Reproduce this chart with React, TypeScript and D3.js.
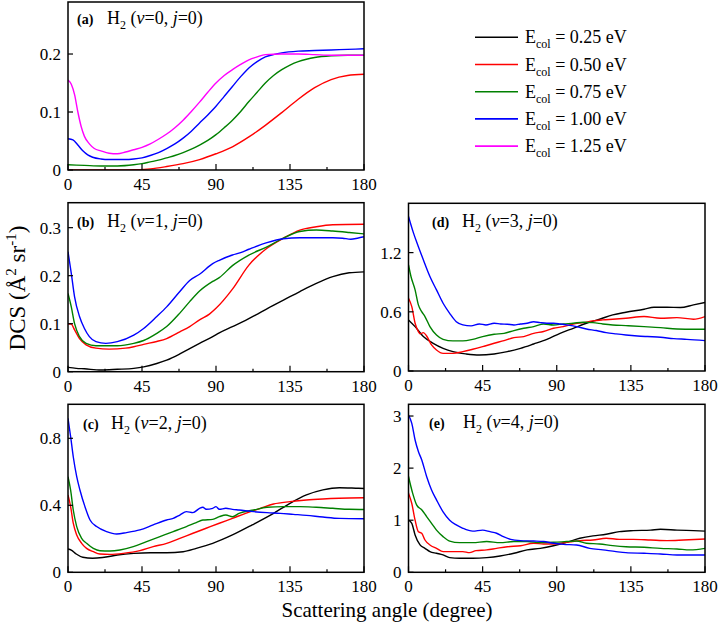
import React from 'react';
import * as d3 from 'd3';

type P = [number, number];

// ---------- data ----------
const ANGLE_TICKS = [0, 45, 90, 135, 180];
const ANGLE_MINOR = [22.5, 67.5, 112.5, 157.5];
const ENERGIES = ['0.25', '0.50', '0.75', '1.00', '1.25'];
const COLORS = ['#000000', '#ff0000', '#008000', '#0000ff', '#ff00ff'];

const Y_TICKS_A = [0, 0.1, 0.2];
const Y_TICKS_B = [0, 0.1, 0.2, 0.3];
const Y_TICKS_C = [0, 0.4, 0.8];
const Y_TICKS_D = [0, 0.6, 1.2];
const Y_TICKS_E = [0, 1, 2, 3];

// (a) v=0
const A_RED: P[] = [[0, 0], [30, 0], [40, 0.0005], [50, 0.002], [60, 0.006], [70, 0.011], [80, 0.018], [90, 0.028], [100, 0.040], [110, 0.057], [120, 0.077], [130, 0.099], [140, 0.122], [150, 0.142], [160, 0.156], [170, 0.163], [180, 0.165]];
const A_GREEN: P[] = [[0, 0.009], [10, 0.008], [20, 0.007], [30, 0.007], [40, 0.009], [45, 0.011], [50, 0.014], [55, 0.017], [60, 0.021], [65, 0.025], [70, 0.03], [75, 0.036], [80, 0.043], [85, 0.051], [90, 0.061], [95, 0.073], [100, 0.086], [105, 0.101], [110, 0.118], [115, 0.134], [120, 0.150], [125, 0.163], [130, 0.173], [135, 0.181], [140, 0.187], [145, 0.191], [150, 0.194], [160, 0.197], [170, 0.198], [180, 0.198]];
const A_BLUE: P[] = [[0, 0.054], [3, 0.052], [6, 0.043], [9, 0.033], [12, 0.026], [15, 0.022], [20, 0.019], [25, 0.018], [30, 0.018], [35, 0.018], [40, 0.019], [45, 0.021], [50, 0.025], [55, 0.030], [60, 0.037], [65, 0.045], [70, 0.055], [75, 0.067], [80, 0.081], [85, 0.095], [90, 0.110], [95, 0.127], [100, 0.144], [105, 0.161], [110, 0.176], [115, 0.187], [120, 0.195], [125, 0.199], [130, 0.202], [140, 0.205], [150, 0.206], [160, 0.207], [170, 0.208], [180, 0.209]];
const A_MAGENTA: P[] = [[0, 0.155], [2, 0.148], [4, 0.13], [6, 0.1], [8, 0.075], [10, 0.058], [13, 0.045], [16, 0.037], [20, 0.033], [25, 0.029], [30, 0.028], [35, 0.031], [40, 0.035], [45, 0.039], [50, 0.045], [55, 0.053], [60, 0.062], [65, 0.073], [70, 0.086], [75, 0.101], [80, 0.117], [85, 0.134], [90, 0.150], [95, 0.163], [100, 0.173], [105, 0.182], [110, 0.190], [115, 0.195], [120, 0.199], [130, 0.200], [140, 0.200], [150, 0.199], [160, 0.198], [170, 0.198], [180, 0.198]];

// (b) v=1
const B_BLACK: P[] = [[0, 0.009], [5, 0.007], [10, 0.006], [20, 0.0035], [30, 0.005], [40, 0.007], [46, 0.01], [54, 0.017], [60, 0.024], [68, 0.037], [74, 0.048], [80, 0.059], [88, 0.073], [92, 0.081], [100, 0.094], [108, 0.107], [114, 0.118], [122, 0.133], [131, 0.149], [141, 0.167], [151, 0.184], [161, 0.198], [171, 0.206], [180, 0.208]];
const B_RED: P[] = [[0, 0.1], [2, 0.099], [4, 0.087], [7, 0.069], [11, 0.056], [17, 0.049], [25, 0.047], [35, 0.049], [40, 0.052], [46, 0.057], [54, 0.063], [60, 0.069], [68, 0.083], [74, 0.094], [80, 0.108], [86, 0.120], [90, 0.132], [100, 0.172], [110, 0.222], [121, 0.257], [131, 0.278], [141, 0.295], [151, 0.302], [161, 0.306], [180, 0.307]];
const B_GREEN: P[] = [[0, 0.163], [2, 0.135], [4, 0.1], [7, 0.073], [11, 0.059], [17, 0.054], [25, 0.054], [30, 0.054], [40, 0.059], [46, 0.065], [54, 0.08], [60, 0.094], [68, 0.122], [74, 0.146], [80, 0.168], [88, 0.188], [92, 0.196], [100, 0.221], [110, 0.243], [121, 0.26], [131, 0.278], [141, 0.292], [151, 0.295], [161, 0.293], [171, 0.29], [180, 0.287]];
const B_BLUE: P[] = [[0, 0.25], [2, 0.205], [4, 0.156], [7, 0.115], [10, 0.09], [13, 0.073], [17, 0.0625], [23, 0.059], [30, 0.0625], [40, 0.076], [46, 0.09], [54, 0.115], [60, 0.135], [68, 0.167], [74, 0.19], [80, 0.203], [88, 0.225], [92, 0.232], [100, 0.243], [105, 0.248], [110, 0.255], [121, 0.269], [131, 0.277], [141, 0.279], [151, 0.279], [161, 0.279], [167, 0.278], [172, 0.276], [176, 0.278], [180, 0.281]];

// (c) v=2
const C_BLACK: P[] = [[0, 0.139], [2, 0.133], [5, 0.109], [9, 0.09], [15, 0.084], [21, 0.088], [30, 0.103], [40, 0.113], [50, 0.117], [60, 0.117], [70, 0.123], [78, 0.143], [88, 0.173], [100, 0.223], [112, 0.283], [125, 0.352], [135, 0.412], [145, 0.462], [155, 0.492], [165, 0.505], [175, 0.502], [180, 0.5]];
const C_RED: P[] = [[0, 0.462], [1.6, 0.392], [3.2, 0.293], [5.3, 0.223], [8.3, 0.173], [11.3, 0.143], [15.4, 0.123], [19.4, 0.109], [25.5, 0.107], [33.6, 0.113], [43.7, 0.129], [51.8, 0.153], [60, 0.173], [68, 0.203], [76, 0.233], [84, 0.263], [92, 0.293], [100, 0.322], [108, 0.352], [117, 0.382], [125, 0.408], [135, 0.422], [145, 0.432], [155, 0.438], [165, 0.442], [180, 0.445]];
const C_GREEN: P[] = [[0, 0.571], [1.6, 0.49], [3.2, 0.372], [5.3, 0.273], [8.3, 0.203], [11.3, 0.173], [15.4, 0.143], [19.4, 0.129], [25.5, 0.127], [31.6, 0.133], [39.7, 0.153], [47.8, 0.183], [55.9, 0.213], [64, 0.243], [72, 0.273], [78, 0.297], [82, 0.312], [88, 0.316], [92, 0.332], [96, 0.342], [100, 0.332], [104, 0.352], [113, 0.372], [121, 0.388], [131, 0.392], [141, 0.392], [151, 0.388], [161, 0.382], [171, 0.376], [180, 0.375]];
const C_BLUE: P[] = [[0, 0.919], [1.6, 0.81], [3.2, 0.69], [5.3, 0.571], [7.3, 0.49], [10.3, 0.392], [13.4, 0.312], [17.4, 0.273], [23.5, 0.243], [29.6, 0.229], [35.6, 0.237], [43.7, 0.253], [51.8, 0.283], [60, 0.312], [64, 0.322], [68, 0.342], [72, 0.362], [76, 0.356], [80, 0.382], [82, 0.388], [84, 0.376], [88, 0.382], [90, 0.392], [92, 0.376], [96, 0.382], [100, 0.376], [104, 0.372], [113, 0.362], [121, 0.356], [129, 0.352], [137, 0.346], [145, 0.34], [155, 0.33], [165, 0.322], [180, 0.32]];

// (d) v=3
const D_BLACK: P[] = [[0, 0.518], [4, 0.45], [9, 0.349], [15, 0.281], [21, 0.23], [27, 0.196], [35, 0.173], [43, 0.162], [52, 0.173], [60, 0.196], [68, 0.23], [76, 0.274], [84, 0.321], [92, 0.382], [100, 0.433], [108, 0.484], [116, 0.525], [124, 0.569], [132, 0.596], [143, 0.626], [149, 0.646], [157, 0.646], [165, 0.643], [173, 0.67], [180, 0.694]];
const D_RED: P[] = [[0, 0.738], [2, 0.653], [4, 0.484], [6, 0.4], [7, 0.376], [9, 0.389], [11, 0.355], [14, 0.264], [17, 0.213], [21, 0.179], [27, 0.179], [33, 0.196], [39, 0.22], [45, 0.247], [52, 0.281], [58, 0.308], [64, 0.338], [70, 0.349], [76, 0.382], [82, 0.4], [88, 0.433], [94, 0.45], [100, 0.477], [106, 0.49], [112, 0.508], [118, 0.518], [124, 0.525], [132, 0.535], [143, 0.552], [153, 0.535], [163, 0.541], [173, 0.525], [180, 0.552]];
const D_GREEN: P[] = [[0, 1.076], [1.5, 0.958], [4, 0.822], [6, 0.67], [8, 0.602], [10, 0.552], [13, 0.45], [17, 0.365], [21, 0.321], [27, 0.305], [33, 0.305], [39, 0.321], [45, 0.349], [52, 0.372], [58, 0.382], [64, 0.41], [70, 0.433], [76, 0.45], [82, 0.477], [88, 0.467], [94, 0.477], [100, 0.484], [106, 0.494], [112, 0.49], [118, 0.477], [124, 0.467], [132, 0.46], [143, 0.45], [153, 0.44], [163, 0.426], [173, 0.423], [180, 0.423]];
const D_BLUE: P[] = [[0, 1.567], [3, 1.4], [6, 1.26], [9, 1.127], [13, 0.958], [17, 0.822], [21, 0.687], [25, 0.585], [29, 0.5], [33, 0.467], [38, 0.457], [43, 0.477], [47, 0.467], [52, 0.484], [56, 0.477], [60, 0.474], [64, 0.467], [68, 0.477], [72, 0.484], [76, 0.5], [80, 0.49], [84, 0.484], [88, 0.484], [92, 0.477], [96, 0.467], [102, 0.45], [108, 0.426], [114, 0.41], [120, 0.389], [126, 0.376], [132, 0.365], [139, 0.355], [145, 0.349], [153, 0.342], [161, 0.328], [169, 0.321], [180, 0.308]];

// (e) v=4
const E_BLACK: P[] = [[0, 1.0], [2, 0.94], [4, 0.717], [7, 0.525], [10, 0.46], [13, 0.397], [17, 0.365], [21, 0.333], [25, 0.282], [31, 0.269], [39, 0.269], [47.5, 0.282], [55.6, 0.313], [64, 0.365], [72, 0.43], [80, 0.46], [88, 0.51], [96, 0.576], [104, 0.653], [112, 0.7], [120, 0.73], [128, 0.78], [136.5, 0.8], [147, 0.81], [153, 0.825], [163, 0.81], [173, 0.8], [180, 0.79]];
const E_RED: P[] = [[0, 1.52], [2, 1.32], [4, 1.0], [6, 0.78], [8, 0.75], [10, 0.62], [13, 0.525], [17, 0.46], [21, 0.397], [27, 0.397], [33, 0.397], [37, 0.377], [41, 0.416], [47.5, 0.43], [53.5, 0.46], [60, 0.49], [68, 0.51], [76, 0.557], [82, 0.544], [88, 0.544], [96, 0.576], [104, 0.608], [112, 0.62], [120, 0.653], [128, 0.633], [136.5, 0.633], [147, 0.62], [157, 0.608], [167, 0.62], [180, 0.64]];
const E_GREEN: P[] = [[0, 1.84], [2.5, 1.52], [5, 1.29], [8, 1.2], [11, 1.07], [14, 0.94], [17, 0.81], [21, 0.685], [25, 0.6], [31, 0.57], [39, 0.57], [47.5, 0.59], [55.6, 0.57], [64, 0.59], [72, 0.59], [80, 0.57], [88, 0.576], [96, 0.59], [102, 0.6], [108, 0.557], [116, 0.544], [124, 0.512], [132, 0.49], [143, 0.48], [153, 0.46], [163, 0.448], [171, 0.43], [180, 0.46]];
const E_BLUE: P[] = [[0, 3.02], [2, 2.86], [4, 2.54], [6, 2.32], [8, 2.16], [11, 1.84], [14, 1.58], [17, 1.39], [21, 1.16], [25, 1.0], [29, 0.91], [33, 0.845], [39, 0.79], [45, 0.81], [49.5, 0.78], [53.5, 0.75], [57.6, 0.685], [62, 0.633], [68, 0.608], [76, 0.6], [82, 0.59], [88, 0.557], [94, 0.537], [102, 0.525], [110, 0.46], [118, 0.43], [126, 0.397], [132, 0.377], [143, 0.365], [153, 0.352], [163, 0.333], [180, 0.333]];

// ---------- layout ----------
const FONT = '"Liberation Serif", "Times New Roman", serif';

interface Panel {
  letter: string; v: number;
  x0: number; x1: number; y0: number; y1: number; ymax: number;
  yticks: number[]; series: (P[] | null)[];
  lx: number; hx: number; by: number;
}

const PANELS: Panel[] = [
  { letter: 'a', v: 0, x0: 68, x1: 364, y0: 2, y1: 170, ymax: 0.2897, yticks: Y_TICKS_A, series: [null, A_RED, A_GREEN, A_BLUE, A_MAGENTA], lx: 77, hx: 107, by: 24 },
  { letter: 'b', v: 1, x0: 68, x1: 364, y0: 202.7, y1: 371.7, ymax: 0.352, yticks: Y_TICKS_B, series: [B_BLACK, B_RED, B_GREEN, B_BLUE, null], lx: 77, hx: 107, by: 227 },
  { letter: 'c', v: 2, x0: 68, x1: 364, y0: 404.3, y1: 572.3, ymax: 1.003, yticks: Y_TICKS_C, series: [C_BLACK, C_RED, C_GREEN, C_BLUE, null], lx: 83, hx: 111, by: 429 },
  { letter: 'd', v: 3, x0: 408.5, x1: 705, y0: 203.3, y1: 371, ymax: 1.70, yticks: Y_TICKS_D, series: [D_BLACK, D_RED, D_GREEN, D_BLUE, null], lx: 432, hx: 462, by: 227 },
  { letter: 'e', v: 4, x0: 408.5, x1: 705, y0: 404.3, y1: 572.3, ymax: 3.225, yticks: Y_TICKS_E, series: [E_BLACK, E_RED, E_GREEN, E_BLUE, null], lx: 429, hx: 463, by: 428 },
];

function PanelView({ p }: { p: Panel }) {
  const x = d3.scaleLinear().domain([0, 180]).range([p.x0, p.x1]);
  const y = d3.scaleLinear().domain([0, p.ymax]).range([p.y1, p.y0]);
  const line = d3.line<P>().x(d => x(d[0])).y(d => y(d[1])).curve(d3.curveMonotoneX);
  const clipId = `clip-${p.letter}`;
  return (
    <g>
      <defs>
        <clipPath id={clipId}>
          <rect x={p.x0} y={p.y0} width={p.x1 - p.x0} height={p.y1 - p.y0} />
        </clipPath>
      </defs>
      <g clipPath={`url(#${clipId})`}>
        {p.series.map((s, i) => s ? (
          <path key={i} d={line(s) || ''} fill="none" stroke={COLORS[i]} strokeWidth={1.4} />
        ) : null)}
      </g>
      <rect x={p.x0} y={p.y0} width={p.x1 - p.x0} height={p.y1 - p.y0} fill="none" stroke="#000" strokeWidth={1.5} />
      {ANGLE_TICKS.map(t => (
        <g key={`xt${t}`}>
          <line x1={x(t)} x2={x(t)} y1={p.y1} y2={p.y1 - 6} stroke="#000" strokeWidth={1.2} />
          <text x={x(t)} y={p.y1 + 20} fontSize={17} textAnchor="middle" fontFamily={FONT}>{t}</text>
        </g>
      ))}
      {ANGLE_MINOR.map(t => (
        <line key={`xm${t}`} x1={x(t)} x2={x(t)} y1={p.y1} y2={p.y1 - 3} stroke="#000" strokeWidth={1.2} />
      ))}
      {p.yticks.map(t => (
        <g key={`yt${t}`}>
          <line x1={p.x0} x2={p.x0 + 5} y1={y(t)} y2={y(t)} stroke="#000" strokeWidth={1.2} />
          <text x={p.x0 - 7} y={y(t)} dy="0.35em" fontSize={17} textAnchor="end" fontFamily={FONT}>{String(t)}</text>
        </g>
      ))}
      <text x={p.lx} y={p.by} fontSize={14} fontWeight="bold" fontFamily={FONT}>({p.letter})</text>
      <text x={p.hx} y={p.by} fontSize={18} fontFamily={FONT}>
        H<tspan fontSize={12} dy={5}>2</tspan><tspan dy={-5}>{' ('}</tspan><tspan fontStyle="italic">v</tspan>{`=${p.v}, `}<tspan fontStyle="italic">j</tspan>{'=0)'}
      </text>
    </g>
  );
}

export default function App() {
  const legendX0 = 475, legendX1 = 518, legendY0 = 37.3, legendDy = 27.2;
  return (
    <svg width={720} height={628} style={{ position: 'absolute', left: 0, top: 0, background: '#fff' }} fontFamily={FONT}>
      <rect x={0} y={0} width={720} height={628} fill="#fff" />
      {PANELS.map(p => <PanelView key={p.letter} p={p} />)}
      {ENERGIES.map((e, i) => {
        const yy = legendY0 + i * legendDy;
        return (
          <g key={e}>
            <line x1={legendX0} x2={legendX1} y1={yy} y2={yy} stroke={COLORS[i]} strokeWidth={1.6} />
            <text x={525} y={yy + 6} fontSize={18} fontFamily={FONT}>
              E<tspan fontSize={12} dy={5}>col</tspan><tspan dy={-5}>{` = ${e} eV`}</tspan>
            </text>
          </g>
        );
      })}
      <text x={387} y={617} fontSize={21} textAnchor="middle" fontFamily={FONT}>Scattering angle (degree)</text>
      <text transform="translate(25,288) rotate(-90)" fontSize={23} textAnchor="middle" fontFamily={FONT}>
        DCS (Å<tspan fontSize={15} dy={-9}>2</tspan><tspan dy={9}>{' sr'}</tspan><tspan fontSize={15} dy={-9}>-1</tspan><tspan dy={9}>)</tspan>
      </text>
    </svg>
  );
}
